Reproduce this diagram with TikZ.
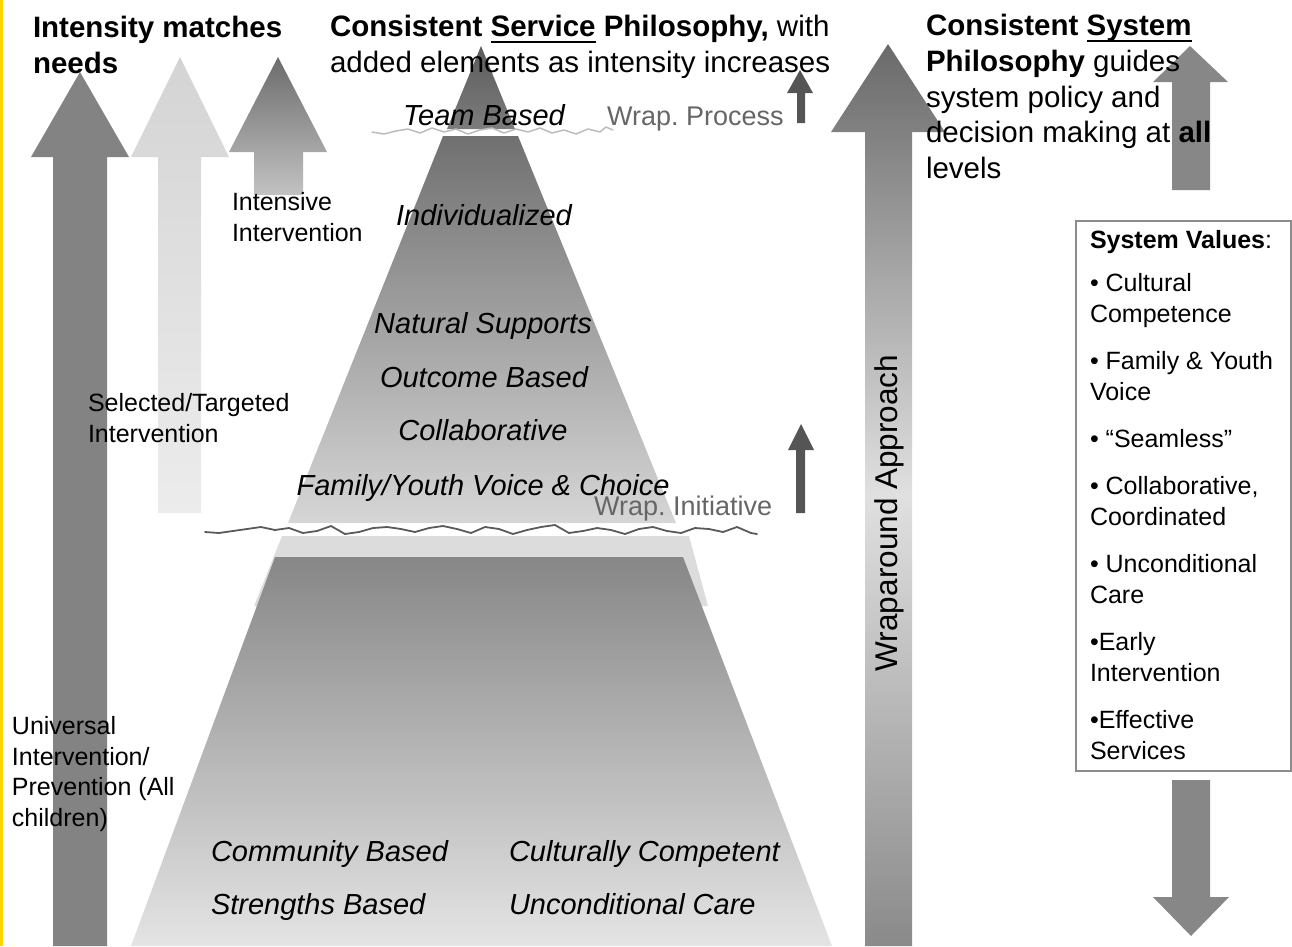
\documentclass[tikz,border=0pt]{standalone}
\usepackage{fontspec}
\setmainfont{Liberation Sans}
\newcommand\myul[1]{\setbox0\hbox{#1}\rlap{\rule[-6.5pt]{\wd0}{2.4pt}}\box0\relax}
\definecolor{yellowline}{RGB}{255,213,0}
\definecolor{darkarrow}{HTML}{838383}
\definecolor{lightA}{HTML}{D4D4D4}
\definecolor{lightB}{HTML}{ECECEC}
\definecolor{intA}{HTML}{6C6C6C}
\definecolor{intB}{HTML}{C2C2C2}
\definecolor{bandgray}{HTML}{DCDCDC}
\definecolor{lowA}{HTML}{878787}
\definecolor{lowB}{HTML}{E4E4E4}
\definecolor{upA}{HTML}{707070}
\definecolor{upB}{HTML}{D6D6D6}
\definecolor{tipA}{HTML}{5C5C5C}
\definecolor{tipB}{HTML}{7C7C7C}
\definecolor{wrapA}{HTML}{6A6A6A}
\definecolor{wrapM}{HTML}{E0E0E0}
\definecolor{wrapB}{HTML}{8A8A8A}
\definecolor{sysarrow}{HTML}{878787}
\definecolor{smallarrow}{HTML}{555555}
\definecolor{wavydark}{HTML}{5A5A5A}
\definecolor{wavylight}{HTML}{BCBCBC}
\definecolor{wrapgray}{HTML}{666666}
\definecolor{boxgray}{HTML}{8C8C8C}
\frenchspacing
\begin{document}
\begin{tikzpicture}[x=1pt,y=-1pt,
  every node/.style={inner sep=0pt,outer sep=0pt},
  hdr/.style={anchor=north west,align=left,font=\fontsize{29.5}{35.7}\selectfont},
  lbl/.style={anchor=north west,align=left,font=\fontsize{25}{30.5}\selectfont},
  pyr/.style={anchor=base,font=\fontsize{29}{35}\selectfont\itshape},
  pyrw/.style={anchor=base west,font=\fontsize{29}{35}\selectfont\itshape},
  wraplbl/.style={anchor=base west,text=wrapgray,font=\fontsize{27}{32}\selectfont},
  wavy/.style={line width=1.8pt,line join=round,line cap=round}]
\useasboundingbox (0,0) rectangle (1292,946);
% yellow edge
\fill[yellowline] (0,0) rectangle (3,946);
% left arrows
\fill[darkarrow] (53,946) -- (53,157) -- (31,157) -- (80,72) -- (129,157) -- (107,157) -- (107,946) -- cycle;
\shade[top color=lightA,bottom color=lightB] (158,513) -- (158,157) -- (131,157) -- (180,57) -- (229,157) -- (201,157) -- (201,513) -- cycle;
\shade[top color=intA,bottom color=intB] (254,195) -- (254,152) -- (229,152) -- (278,57) -- (327,152) -- (303,152) -- (303,195) -- cycle;
% pyramid
\fill[bandgray] (282,536) -- (689,536) -- (708,606) -- (254,606) -- cycle;
\shade[top color=lowA,bottom color=lowB] (275,557) -- (683,557) -- (832,946) -- (131,946) -- cycle;
\shade[top color=upA,bottom color=upB] (443,136) -- (518,136) -- (676,523) -- (288,523) -- cycle;
\shade[top color=tipA,bottom color=tipB] (481,46) -- (515,129) -- (447,129) -- cycle;
% wraparound arrow
\shade[top color=wrapA,bottom color=wrapB,middle color=wrapM] (865,946) -- (865,132) -- (831,132) -- (888,44) -- (945,132) -- (912,132) -- (912,946) -- cycle;
% system arrows
\fill[sysarrow] (1172,190) -- (1172,82) -- (1153,82) -- (1190,46) -- (1228,82) -- (1210,82) -- (1210,190) -- cycle;
\fill[sysarrow] (1172,780) -- (1210,780) -- (1210,897) -- (1229,897) -- (1191,936) -- (1153,897) -- (1172,897) -- cycle;
% small wrap arrows
\fill[smallarrow] (797,123) -- (797,93) -- (787,93) -- (800,70) -- (813,93) -- (805,93) -- (805,123) -- cycle;
\fill[smallarrow] (796,513) -- (796,450) -- (788,450) -- (801,424) -- (814,450) -- (805,450) -- (805,513) -- cycle;
% wavy lines
\draw[wavy,wavylight,line width=1.5pt] plot coordinates {(372,132) (384,134) (396,131) (408,129) (420,133) (432,128) (444,132) (456,129) (468,134) (480,130) (492,128) (504,133) (516,129) (528,132) (540,128) (552,133) (564,130) (576,134) (588,129) (600,132) (606,127) (613,130)};
\draw[wavy,wavydark] plot coordinates {(205,532) (219,533) (233,531) (247,529) (261,527) (275,530) (289,528) (303,533) (317,531) (331,526) (345,534) (359,532) (373,528) (387,527) (401,529) (415,532) (429,528) (443,526) (457,529) (471,533) (485,527) (499,529) (513,534) (527,530) (541,527) (555,525) (569,533) (583,531) (597,528) (611,530) (625,534) (639,529) (653,527) (667,531) (681,533) (695,528) (709,529) (723,532) (737,527) (751,533) (757,534)};
% values box
\node[draw=boxgray,line width=1.3pt,anchor=north west,minimum width=215pt,minimum height=550pt] (valbox) at (1076,221) {};
% headers
\node[hdr] (hdr1) at (33,16) {\textbf{Intensity matches}\\\textbf{needs}};
\node[hdr] (hdr2) at (330,15.5) {\textbf{Consistent \myul{Service} Philosophy,} with\\added elements as intensity increases};
\node[hdr] (hdr3) at (926,14.5) {\textbf{Consistent \myul{System}}\\\textbf{Philosophy} guides\\system policy and\\decision making at \textbf{all}\\levels};
% side labels
\node[lbl] (intlbl) at (232,192.7) {Intensive\\Intervention};
\node[lbl] (sellbl) at (88,393.7) {Selected/Targeted\\Intervention};
\node[lbl] (unilbl) at (12,716.7) {Universal\\Intervention/\\Prevention (All\\children)};
% pyramid texts
\node[pyr] (team) at (484,125) {Team Based};
\node[pyr] (indiv) at (484,225) {Individualized};
\node[pyr] (natural) at (483,333) {Natural Supports};
\node[pyr] (outcome) at (484,387) {Outcome Based};
\node[pyr] (collab) at (483,440) {Collaborative};
\node[pyr] (family) at (483,495) {Family/Youth Voice \& Choice};
\node[pyrw] (community) at (211,861) {Community Based};
\node[pyrw] (strengths) at (211,914) {Strengths Based};
\node[pyrw] (cultural) at (509,861) {Culturally Competent};
\node[pyrw] (uncond) at (509,914) {Unconditional Care};
% wrap labels
\node[wraplbl] (wproc) at (607,125) {Wrap. Process};
\node[wraplbl] (winit) at (594,515) {Wrap. Initiative};
\node[rotate=90,font=\fontsize{31.5}{36}\selectfont] (wrapTxt) at (889,513) {Wraparound Approach};
% values text
\node[anchor=north west,align=left,font=\fontsize{25}{31}\selectfont] (values) at (1090,230.7)
 {\textbf{System Values}:\\[12pt]• Cultural\\Competence\\[16pt]• Family \& Youth\\Voice\\[16pt]• “Seamless”\\[16pt]• Collaborative,\\Coordinated\\[16pt]• Unconditional\\Care\\[16pt]•Early\\Intervention\\[16pt]•Effective\\Services};
\end{tikzpicture}
\end{document}
